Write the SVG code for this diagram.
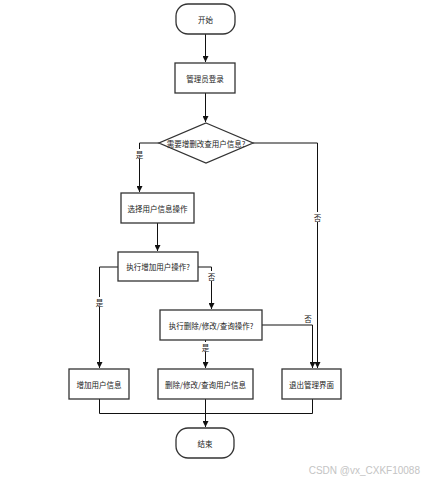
<svg xmlns="http://www.w3.org/2000/svg" width="423" height="482" viewBox="0 0 423 482">
<style>
.n{fill:#fff;stroke:#333;stroke-width:1.3}
.t{font-family:"Noto Sans CJK SC","Liberation Sans",sans-serif;font-size:7.5px;fill:#222;text-anchor:middle;dominant-baseline:central}
.c{fill:none;stroke:#111;stroke-width:1}
.l{font-family:"Noto Sans CJK SC","Liberation Sans",sans-serif;font-size:7.5px;fill:#222;text-anchor:middle;dominant-baseline:central}
.b{fill:#fff}
</style>
<defs>
<marker id="a" viewBox="0 0 6 6" refX="6" refY="3" markerWidth="6" markerHeight="6" markerUnits="userSpaceOnUse" orient="auto">
<path d="M0,0L6,3L0,6z" fill="#111"/>
</marker>
</defs>
<rect width="423" height="482" fill="#fff"/>
<g id="connectors">
<path class="c" d="M205.5,34V62" marker-end="url(#a)"/>
<path class="c" d="M205.5,93V122" marker-end="url(#a)"/>
<path class="c" d="M159,143H139.5V192" marker-end="url(#a)"/>
<path class="c" d="M253,143H317.5V368" marker-end="url(#a)"/>
<path class="c" d="M157.5,223V251" marker-end="url(#a)"/>
<path class="c" d="M118,267H99.5V368" marker-end="url(#a)"/>
<path class="c" d="M198,267H211.5V309" marker-end="url(#a)"/>
<path class="c" d="M205.5,340V368" marker-end="url(#a)"/>
<path class="c" d="M262,325H312.5V368" marker-end="url(#a)"/>
<path class="c" d="M99.5,399V413.5H312.5V399"/>
<path class="c" d="M205.5,399V427" marker-end="url(#a)"/>
<rect class="b" x="135" y="149" width="9" height="10"/><text class="l" x="139.5" y="154">是</text>
<rect class="b" x="313" y="212" width="9" height="10"/><text class="l" x="317.5" y="217">否</text>
<rect class="b" x="95" y="297" width="9" height="10"/><text class="l" x="99.5" y="302">是</text>
<rect class="b" x="207" y="271" width="9" height="10"/><text class="l" x="211.5" y="276">否</text>
<text class="l" x="308" y="318">否</text>
<rect class="b" x="201" y="342" width="9" height="10"/><text class="l" x="205.5" y="347">是</text>
</g>
<g id="start"><rect class="n" x="176" y="4" width="59" height="30" rx="12"/><text class="t" x="205.5" y="19">开始</text></g>
<g id="login"><rect class="n" x="175" y="63" width="60" height="30"/><text class="t" x="205" y="78">管理员登录</text></g>
<g id="need"><path class="n" d="M206,123L253,143L206,163L159,143Z"/><text class="t" x="206" y="143">需要增删改查用户信息?</text></g>
<g id="select"><rect class="n" x="121" y="193" width="73" height="30"/><text class="t" x="157.5" y="208">选择用户信息操作</text></g>
<g id="addq"><rect class="n" x="118" y="252" width="80" height="29"/><text class="t" x="158" y="266.5">执行增加用户操作?</text></g>
<g id="modq"><rect class="n" x="160" y="310" width="102" height="30"/><text class="t" x="211" y="325">执行删除/修改/查询操作?</text></g>
<g id="add"><rect class="n" x="69" y="369" width="60" height="30"/><text class="t" x="99" y="384">增加用户信息</text></g>
<g id="mod"><rect class="n" x="158" y="369" width="95" height="30"/><text class="t" x="205.5" y="384">删除/修改/查询用户信息</text></g>
<g id="exit"><rect class="n" x="282" y="369" width="59" height="30"/><text class="t" x="311.5" y="384">退出管理界面</text></g>
<g id="end"><rect class="n" x="176" y="428" width="58" height="30" rx="12"/><text class="t" x="205" y="443">结束</text></g>
<text x="420" y="470" font-family="Liberation Sans,sans-serif" font-size="10" fill="#c4c4c4" text-anchor="end" dominant-baseline="central">CSDN @vx_CXKF10088</text>
</svg>
